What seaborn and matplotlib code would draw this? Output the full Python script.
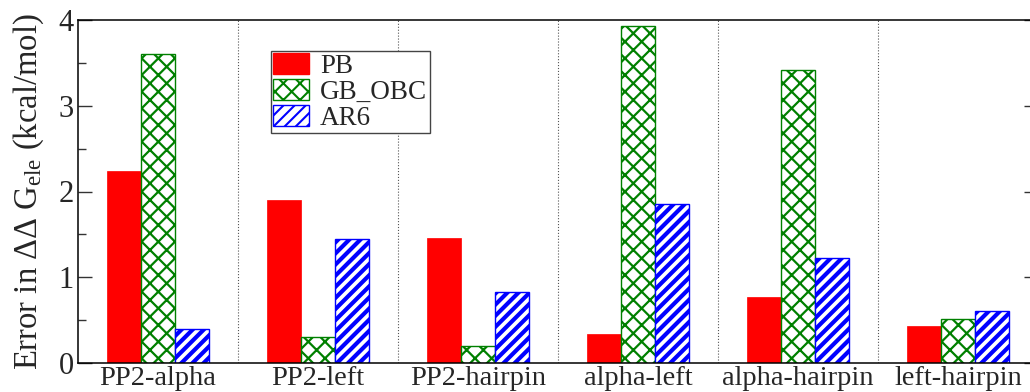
import numpy as np
import pandas as pd
import matplotlib
matplotlib.use("Agg")
import matplotlib.pyplot as plt
import seaborn as sns

categories = ["PP2-alpha", "PP2-left", "PP2-hairpin", "alpha-left", "alpha-hairpin", "left-hairpin"]
methods = ["PB", "GB_OBC", "AR6"]
pb_values = [2.24, 1.90, 1.46, 0.34, 0.77, 0.43]
gb_obc_values = [3.60, 0.30, 0.20, 3.93, 3.42, 0.51]
ar6_values = [0.40, 1.45, 0.83, 1.85, 1.23, 0.61]
y_ticks = [0, 1, 2, 3, 4]

df = pd.DataFrame({
    "pair": categories * 3,
    "method": [methods[0]] * 6 + [methods[1]] * 6 + [methods[2]] * 6,
    "error": pb_values + gb_obc_values + ar6_values,
})

sns.set_theme(style="ticks")
plt.rcParams["font.family"] = ["Liberation Serif", "DejaVu Serif"]
plt.rcParams["mathtext.fontset"] = "custom"
plt.rcParams["mathtext.rm"] = "Liberation Serif"
plt.rcParams["mathtext.it"] = "Liberation Serif:italic"
plt.rcParams["mathtext.bf"] = "Liberation Serif:bold"
plt.rcParams["hatch.linewidth"] = 1.5

DPI = 100
fig = plt.figure(figsize=(1030 / DPI, 392 / DPI), dpi=DPI)
ax = fig.add_axes([78 / 1030, 29 / 392, 960 / 1030, 343 / 392])

sns.barplot(data=df, x="pair", y="error", hue="method", order=categories,
            hue_order=methods, palette=["#ff0000", "white", "white"],
            width=0.6375, saturation=1, ax=ax, legend=True)

styles = [
    dict(face="#ff0000", edge="#ff0000", hatch=None, hlw=1.0, lw=0.5),
    dict(face="white", edge="#008000", hatch="xx", hlw=1.6, lw=1.0),
    dict(face="white", edge="#0000ff", hatch="///", hlw=3.0, lw=1.0),
]
for cont, st in zip(ax.containers, styles):
    for p in cont.patches:
        p.set_facecolor(st["face"])
        p.set_edgecolor(st["edge"])
        p.set_linewidth(st["lw"])
        if st["hatch"]:
            p.set_hatch(st["hatch"])
            if hasattr(p, "set_hatch_linewidth"):
                p.set_hatch_linewidth(st["hlw"])

ax.set_xlim(-0.5, len(categories) - 0.5)
ax.set_ylim(0, 4)
ax.set_yticks(y_ticks)
ax.set_yticks(np.arange(0.5, 4, 1.0), minor=True)
ax.set_xticks(np.arange(len(categories)) + 0.5, minor=True)
ax.grid(False)
ax.grid(which="minor", axis="x", color="#555555", linestyle=":", linewidth=0.8)

for s in ax.spines.values():
    s.set_visible(True)
    s.set_color("black")
    s.set_linewidth(1.1)

ax.tick_params(axis="y", which="major", direction="in", length=10, width=1.0,
               left=True, right=True, labelsize=22, pad=3, color="#333333")
ax.tick_params(axis="y", which="minor", direction="in", length=6, width=1.0,
               left=True, right=True, color="#333333")
ax.tick_params(axis="x", which="both", length=0, labelsize=20.5, pad=2)

ax.set_xlabel("")
ax.set_ylabel(r"Error in ΔΔ G$_{\mathrm{ele}}$ (kcal/mol)", fontsize=23.5, labelpad=9)

handles, labels = ax.get_legend_handles_labels()
for h, st in zip(handles, styles):
    h.set_facecolor(st["face"])
    h.set_edgecolor(st["edge"])
    if st["hatch"]:
        h.set_hatch(st["hatch"])
        if hasattr(h, "set_hatch_linewidth"):
            h.set_hatch_linewidth(st["hlw"])
ax.legend(handles, labels, loc="upper left",
          bbox_to_anchor=(270.7 / 1030, 1 - 50.7 / 392),
          bbox_transform=fig.transFigure, fontsize=19.5, frameon=True,
          fancybox=False, framealpha=1, edgecolor="#444444",
          borderpad=0.1, handlelength=1.3, handleheight=0.8,
          handletextpad=0.42, labelspacing=0.0, borderaxespad=0)
ax.get_legend().get_frame().set_linewidth(1.0)

fig.savefig("out.png", dpi=DPI)
